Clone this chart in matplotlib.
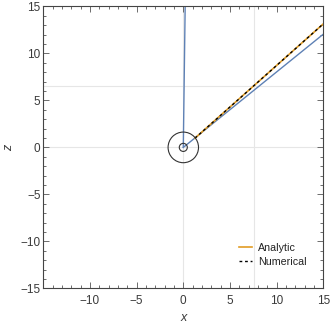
import matplotlib
matplotlib.use("Agg")
import matplotlib.pyplot as plt
from matplotlib.patches import Circle
from matplotlib.ticker import MultipleLocator

# data
traj_up_x = [0.0, 0.2]
traj_up_z = [0.0, 15.0]
traj_diag_x = [0.0, 15.0]
traj_diag_z = [0.0, 12.05]
analytic_x = [1.25, 15.0]
analytic_z = [0.98, 13.15]
numerical_x = [1.25, 15.0]
numerical_z = [0.98, 13.15]
circle_radii = [0.43, 1.63]
grid_x = [0.0, 7.6]
grid_z = [0.0, 6.5]
xticks = [-10, -5, 0, 5, 10, 15]
yticks = [-15, -10, -5, 0, 5, 10, 15]

plt.rcParams['font.family'] = ['Liberation Sans', 'DejaVu Sans']
fig = plt.figure(figsize=(3.32, 3.24), dpi=100)
ax = fig.add_axes([0.1304, 0.1102, 0.8434, 0.8698])

for gx in grid_x:
    ax.axvline(gx, color='#e6e6e6', lw=0.8, zorder=0)
for gz in grid_z:
    ax.axhline(gz, color='#e6e6e6', lw=0.8, zorder=0)

blue = '#5e81b5'
orange = '#e19c24'
ax.plot(traj_up_x, traj_up_z, color=blue, lw=1.0, zorder=2)
ax.plot(traj_diag_x, traj_diag_z, color=blue, lw=1.0, zorder=2)
ax.plot(analytic_x, analytic_z, color=orange, lw=1.2, zorder=3, label='Analytic')
ax.plot(numerical_x, numerical_z, color='black', lw=1.0, ls=(0, (2, 2)), zorder=4, label='Numerical')
for r in circle_radii:
    ax.add_patch(Circle((0, 0), r, fill=False, ec='#333333', lw=0.8, zorder=5))

ax.set_xlim(-15, 15)
ax.set_ylim(-15, 15)
ax.set_xticks(xticks)
ax.set_yticks(yticks)
ax.set_xticklabels(['\u221210', '\u22125', '0', '5', '10', '15'])
ax.set_yticklabels(['\u221215', '\u221210', '\u22125', '0', '5', '10', '15'])
ax.xaxis.set_minor_locator(MultipleLocator(1))
ax.yaxis.set_minor_locator(MultipleLocator(1))
ax.tick_params(which='both', direction='in', top=True, right=True, color='#555555',
               labelsize=8.5, labelcolor='#3a3a3a', width=0.6)
ax.tick_params(which='major', length=4, pad=2)
ax.tick_params(axis='x', which='major', pad=4.5)
ax.tick_params(which='minor', length=2.2)
for s in ax.spines.values():
    s.set_color('#444444')
    s.set_linewidth(0.8)

ax.set_xlabel('x', fontstyle='italic', fontsize=9, color='#3a3a3a', labelpad=4)
ax.set_ylabel('z', fontstyle='italic', fontsize=9, color='#3a3a3a', labelpad=4)

leg = ax.legend(loc='lower right', bbox_to_anchor=(0.955, 0.06), frameon=False,
                fontsize=7.7, handlelength=1.3, handletextpad=0.5, labelspacing=0.4,
                borderaxespad=0)
for t in leg.get_texts():
    t.set_color('#222222')

fig.savefig('out.png', dpi=100)
